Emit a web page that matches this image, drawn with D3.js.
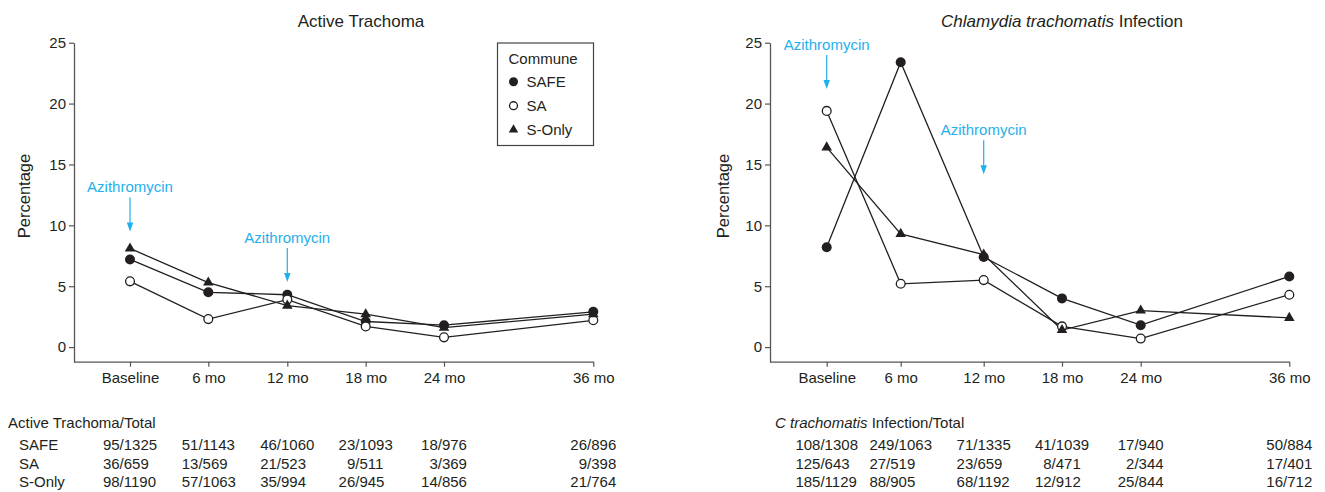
<!DOCTYPE html>
<html>
<head>
<meta charset="utf-8">
<script src="https://cdn.jsdelivr.net/npm/d3@7"></script>
<style>
  html, body { margin: 0; padding: 0; background: #fff; }
  svg { display: block; font-family: "Liberation Sans", Arial, Helvetica, sans-serif; }
</style>
</head>
<body>
<svg id="chart" width="1325" height="492"></svg>
<script>
// ---------------- DATA ----------------
const months = [0, 6, 12, 18, 24, 36];
const tickLabels = ["Baseline", "6 mo", "12 mo", "18 mo", "24 mo", "36 mo"];
const yTicks = [0, 5, 10, 15, 20, 25];
const seriesNames = ["SAFE", "SA", "S-Only"];

// Active trachoma (%)
const trachomaSAFE  = [7.2, 4.5, 4.3, 2.1, 1.8, 2.9];
const trachomaSA    = [5.4, 2.3, 3.9, 1.7, 0.8, 2.2];
const trachomaSOnly = [8.1, 5.3, 3.4, 2.7, 1.6, 2.7];

// C trachomatis infection (%)
const infectionSAFE  = [8.2, 23.4, 7.4, 4.0, 1.8, 5.8];
const infectionSA    = [19.4, 5.2, 5.5, 1.7, 0.7, 4.3];
const infectionSOnly = [16.4, 9.3, 7.6, 1.4, 3.0, 2.4];

// Count tables
const trachomaCountsSAFE  = ["95/1325", "51/1143", "46/1060", "23/1093", "18/976", "26/896"];
const trachomaCountsSA    = ["36/659", "13/569", "21/523", "9/511", "3/369", "9/398"];
const trachomaCountsSOnly = ["98/1190", "57/1063", "35/994", "26/945", "14/856", "21/764"];
const infectionCountsSAFE  = ["108/1308", "249/1063", "71/1335", "41/1039", "17/940", "50/884"];
const infectionCountsSA    = ["125/643", "27/519", "23/659", "8/471", "2/344", "17/401"];
const infectionCountsSOnly = ["185/1129", "88/905", "68/1192", "12/912", "25/844", "16/712"];

// Azithromycin annotations: month and arrow-tip value
const trachomaAzithroMonths = [0, 12];
const trachomaAzithroTips = [9.5, 5.35];
const infectionAzithroMonths = [0, 12];
const infectionAzithroTips = [21.2, 14.2];

// ---------------- STYLE ----------------
const INK = "#231f20";
const AXIS = "#555";
const BLUE = "#1fb0ec";
const FONT = 15;

const svg = d3.select("#chart");

const markerTypes = { "SAFE": "filled", "SA": "open", "S-Only": "triangle" };

function drawMarker(g, type, cx, cy, scale) {
  const s = scale || 1;
  if (type === "triangle") {
    g.append("path")
      .attr("d", d3.symbol(d3.symbolTriangle, 48 * s * s)())
      .attr("transform", `translate(${cx},${cy})`)
      .attr("fill", INK);
  } else {
    g.append("circle")
      .attr("cx", cx).attr("cy", cy).attr("r", (type === "filled" ? 5 : 4.4) * s)
      .attr("fill", type === "filled" ? INK : "#fff")
      .attr("stroke", INK).attr("stroke-width", type === "filled" ? 0 : 1.3);
  }
}

function drawPanel(cfg) {
  const g = svg.append("g");
  const x = d3.scaleLinear().domain(months).range(cfg.xRange);
  const y = d3.scaleLinear().domain([-1.2, 25]).range([361.7, 42.7]);

  // y axis
  const ya = g.append("g")
    .attr("transform", `translate(${cfg.axisX},0)`)
    .call(d3.axisLeft(y).tickValues(yTicks).tickSize(5).tickSizeOuter(0).tickPadding(3));
  ya.select(".domain").attr("stroke", AXIS).attr("stroke-width", 1.3);
  ya.selectAll(".tick line").attr("stroke", AXIS).attr("stroke-width", 1.2);
  ya.selectAll(".tick text").attr("fill", INK).attr("font-size", FONT).attr("font-family", null);

  // x axis
  const xa = g.append("g")
    .attr("transform", `translate(0,${y.range()[0]})`)
    .call(d3.axisBottom(x).tickValues(months).tickFormat((d, i) => tickLabels[i])
      .tickSize(5).tickSizeOuter(0).tickPadding(6));
  xa.select(".domain").remove();
  xa.append("line")
    .attr("x1", cfg.axisX).attr("x2", x(months[months.length - 1]) + 0.5)
    .attr("y1", 0.5).attr("y2", 0.5)
    .attr("stroke", AXIS).attr("stroke-width", 1.3);
  xa.selectAll(".tick line").attr("stroke", AXIS).attr("stroke-width", 1.2);
  xa.selectAll(".tick text").attr("fill", INK).attr("font-size", FONT).attr("font-family", null);

  // y label
  g.append("text")
    .attr("transform", `translate(${cfg.yLabelX},196) rotate(-90)`)
    .attr("text-anchor", "middle")
    .attr("font-size", 16.5).attr("fill", INK)
    .text("Percentage");

  // title
  const t = g.append("text")
    .attr("x", cfg.titleX).attr("y", 26.5)
    .attr("text-anchor", "middle")
    .attr("font-size", 17).attr("fill", INK);
  cfg.title(t);

  // annotations
  cfg.azMonths.forEach((m, i) => {
    const ax = x(m), tip = y(cfg.azTips[i]);
    g.append("line").attr("x1", ax).attr("x2", ax)
      .attr("y1", tip - 34).attr("y2", tip - 6)
      .attr("stroke", BLUE).attr("stroke-width", 1.2);
    g.append("path")
      .attr("d", `M${ax - 3.2},${tip - 9}L${ax + 3.2},${tip - 9}L${ax},${tip}Z`)
      .attr("fill", BLUE);
    g.append("text").attr("x", ax).attr("y", tip - 39)
      .attr("text-anchor", "middle").attr("font-size", FONT).attr("fill", BLUE)
      .text("Azithromycin");
  });

  // lines
  const line = d3.line().x((d, i) => x(months[i])).y(d => y(d));
  cfg.series.forEach(s => {
    g.append("path").attr("d", line(s.values))
      .attr("fill", "none").attr("stroke", INK).attr("stroke-width", 1.3);
  });
  // markers
  cfg.series.forEach(s => {
    s.values.forEach((v, i) => drawMarker(g, markerTypes[s.name], x(months[i]), y(v)));
  });

  // count table
  const tt = g.append("text").attr("x", cfg.tableTitleX).attr("y", 428)
    .attr("font-size", FONT).attr("fill", INK);
  cfg.tableTitle(tt);

  const rowY = [450, 468.5, 487];
  // measure digit width
  const probe = g.append("text").attr("font-size", FONT).text("0");
  const digitW = probe.node().getComputedTextLength();
  probe.remove();

  cfg.counts.forEach((row, r) => {
    if (cfg.rowLabels) {
      g.append("text").attr("x", 19).attr("y", rowY[r])
        .attr("font-size", FONT).attr("fill", INK).text(seriesNames[r]);
    }
  });
  months.forEach((m, c) => {
    const first = g.append("text").attr("font-size", FONT).attr("fill", INK)
      .attr("y", rowY[0]).text(cfg.counts[0][c]);
    const w = first.node().getComputedTextLength();
    const left = x(m) - w / 2;
    first.attr("x", left);
    for (let r = 1; r < cfg.counts.length; r++) {
      const txt = cfg.counts[r][c];
      const pad = txt.split("/")[0].length === 1 ? digitW : 0;
      g.append("text").attr("font-size", FONT).attr("fill", INK)
        .attr("x", left + pad).attr("y", rowY[r]).text(txt);
    }
  });

  return { g, x, y };
}

// ---------------- LEFT PANEL ----------------
const left = drawPanel({
  axisX: 74,
  xRange: [130, 208.3, 287.3, 365.7, 444, 593.3],
  yLabelX: 30,
  titleX: 361,
  title: t => t.text("Active Trachoma"),
  azMonths: trachomaAzithroMonths,
  azTips: trachomaAzithroTips,
  series: [
    { name: "SAFE", values: trachomaSAFE },
    { name: "SA", values: trachomaSA },
    { name: "S-Only", values: trachomaSOnly }
  ],
  tableTitleX: 8,
  tableTitle: t => t.text("Active Trachoma/Total"),
  rowLabels: true,
  counts: [trachomaCountsSAFE, trachomaCountsSA, trachomaCountsSOnly]
});

// legend
const lg = svg.append("g").attr("transform", "translate(497.5,43)");
lg.append("rect").attr("x", 0).attr("y", 0).attr("width", 96).attr("height", 102.5)
  .attr("fill", "#fff").attr("stroke", "#444").attr("stroke-width", 1.2);
lg.append("text").attr("x", 11).attr("y", 20.5).attr("font-size", FONT).attr("fill", INK).text("Commune");
seriesNames.forEach((n, i) => {
  const cy = 38.7 + i * 24;
  drawMarker(lg, markerTypes[n], 16, cy, 0.9);
  lg.append("text").attr("x", 29).attr("y", cy + 5.3).attr("font-size", FONT).attr("fill", INK).text(n);
});

// ---------------- RIGHT PANEL ----------------
drawPanel({
  axisX: 770,
  xRange: [826.7, 900.7, 983.7, 1062, 1140.7, 1289.3],
  yLabelX: 728.5,
  titleX: 1062,
  title: t => {
    t.append("tspan").attr("font-style", "italic").text("Chlamydia trachomatis");
    t.append("tspan").text(" Infection");
  },
  azMonths: infectionAzithroMonths,
  azTips: infectionAzithroTips,
  series: [
    { name: "SAFE", values: infectionSAFE },
    { name: "SA", values: infectionSA },
    { name: "S-Only", values: infectionSOnly }
  ],
  tableTitleX: 775,
  tableTitle: t => {
    t.append("tspan").attr("font-style", "italic").text("C trachomatis");
    t.append("tspan").text(" Infection/Total");
  },
  rowLabels: false,
  counts: [infectionCountsSAFE, infectionCountsSA, infectionCountsSOnly]
});
</script>
</body>
</html>
